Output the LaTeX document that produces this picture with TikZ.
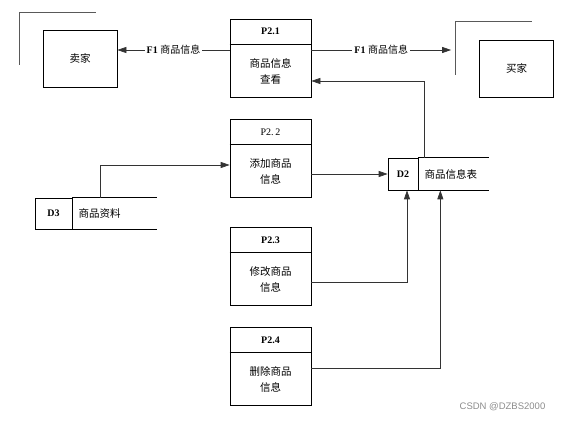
\documentclass[tikz,border=0pt]{standalone}
\usepackage{fontspec}
\setmainfont{Liberation Serif}
\setsansfont{Liberation Sans}
\newfontfamily\cjk{Noto Sans CJK SC}
\usetikzlibrary{arrows.meta,positioning,calc}

\begin{document}
\begin{tikzpicture}[x=1pt, y=-1pt,
    line width=0.7pt,
    proc/.style={draw, minimum width=81pt, minimum height=78pt, inner sep=0pt},
    head/.style={minimum width=81pt, minimum height=25pt, inner sep=0pt, font=\fontsize{10}{12}\selectfont\bfseries},
    body/.style={minimum height=53pt, text width=81pt, inner sep=0pt, align=center, font=\cjk\fontsize{10.5}{16}\selectfont},
    ent/.style={draw, minimum width=74pt, minimum height=57pt, inner sep=0pt, font=\cjk\fontsize{10.5}{12}\selectfont},
    shadowl/.style={draw=black!65, line width=1pt},
    storeid/.style={draw, minimum height=32pt, inner sep=0pt, font=\fontsize{10}{12}\selectfont\bfseries},
    storename/.style={minimum height=32pt, inner ysep=0pt, inner xsep=6pt, align=left, font=\cjk\fontsize{10.5}{12}\selectfont},
    arr/.style={draw=black!80, -{Triangle[length=9pt,width=6pt]}},
    flow/.style={midway, fill=white, inner sep=2pt, font=\fontsize{10}{12}\selectfont}
]
\useasboundingbox (0,0) rectangle (563,422);

\node[proc] (p21) at (270.5,58) {};
\node[head, below=0pt of p21.north] (p21h) {P2.1};
\node[body, below=0pt of p21h] (p21b) {商品信息\\查看};
\draw (p21h.south west) -- (p21h.south east);

\node[proc] (p22) at (270.5,158.5) {};
\node[head, below=0pt of p22.north, font=\fontsize{10}{12}\selectfont] (p22h) {P2.\,2};
\node[body, below=0pt of p22h] (p22b) {添加商品\\信息};
\draw (p22h.south west) -- (p22h.south east);

\node[proc] (p23) at (270.5,266.5) {};
\node[head, below=0pt of p23.north] (p23h) {P2.3};
\node[body, below=0pt of p23h] (p23b) {修改商品\\信息};
\draw (p23h.south west) -- (p23h.south east);

\node[proc] (p24) at (270.5,366.5) {};
\node[head, below=0pt of p24.north] (p24h) {P2.4};
\node[body, below=0pt of p24h] (p24b) {删除商品\\信息};
\draw (p24h.south west) -- (p24h.south east);

\node[ent] (seller) at (80,58.5) {卖家};
\draw[shadowl] ($(seller.north west)+(-23,35)$) -- ($(seller.north west)+(-23,-17)$) -- ($(seller.north west)+(53,-17)$);
\node[ent] (buyer) at (516.5,68.5) {买家};
\draw[shadowl] ($(buyer.north west)+(-24,35)$) -- ($(buyer.north west)+(-24,-18)$) -- ($(buyer.north west)+(53,-18)$);

\node[storeid, minimum width=30pt] (d2) at (403,174) {D2};
\node[storename, text width=58pt, right=0pt of d2] (d2n) {商品信息表};
\draw (d2.north east) -- (d2n.north east);
\draw (d2.south east) -- (d2n.south east);

\node[storeid, minimum width=37pt, minimum height=31pt] (d3) at (53.5,213.5) {D3};
\node[storename, text width=72pt, minimum height=31pt, right=0pt of d3] (d3n) {商品资料};
\draw (d3.north east) -- (d3n.north east);
\draw (d3.south east) -- (d3n.south east);

\draw[arr] ([yshift=8pt]p21.west) -- ([yshift=8pt]p21.west -| seller.east)
    node[flow] {\bfseries F1 {\cjk\mdseries 商品信息}};
\coordinate (bin) at ($(buyer.north west)+(-28,10)$);
\draw[arr] ([yshift=8pt]p21.east) -- ([yshift=8pt]p21.east -| bin)
    node[flow] {\bfseries F1 {\cjk\mdseries 商品信息}};

\draw[arr] ([xshift=6pt]d2n.north west) |- ([yshift=-23pt]p21.east);
\draw[arr] (p22.east |- d2.west) -- (d2.west);
\draw[arr] ([xshift=28pt]d3n.north west) |- ([yshift=-6.5pt]p22.west);
\draw[arr] ([yshift=-15.5pt]p23.east) -| ([xshift=4pt]d2.south);
\draw[arr] ([yshift=-1.5pt]p24.east) -| ([xshift=22pt]d2n.south west);

\node[anchor=east, font=\sffamily\fontsize{9.5}{11}\selectfont, text=black!45] (mark) at (549,407) {CSDN @DZBS2000};
\end{tikzpicture}
\end{document}
